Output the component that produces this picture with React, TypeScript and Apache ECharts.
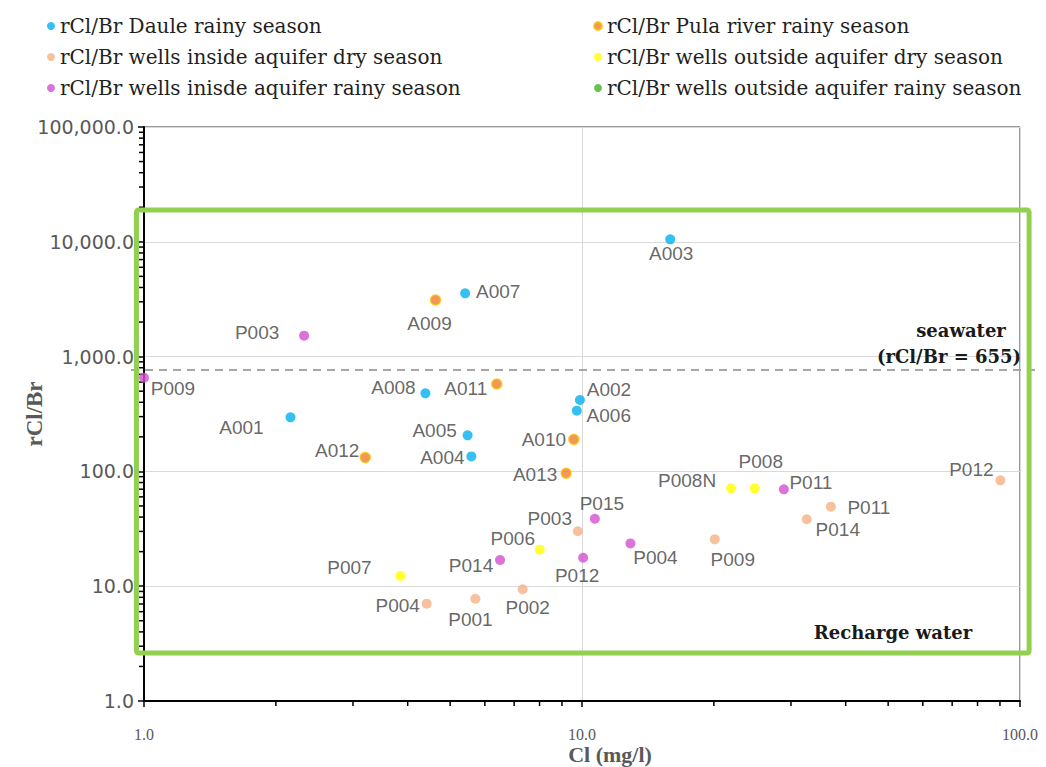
import React, { useEffect, useRef } from 'react';
import * as echarts from 'echarts';

// ---- Data (Cl in mg/l, rCl/Br ratio) ----
const seriesNames = [
  'rCl/Br Daule rainy season',
  'rCl/Br Pula river rainy season',
  'rCl/Br wells inside aquifer dry season',
  'rCl/Br wells outside aquifer dry season',
  'rCl/Br wells inisde aquifer rainy season',
  'rCl/Br wells outside aquifer rainy season',
];

const dauleIds = ['A003', 'A007', 'A008', 'A001', 'A005', 'A004', 'A002', 'A006'];
const dauleCl = [15.9, 5.41, 4.39, 2.16, 5.48, 5.59, 9.89, 9.73];
const dauleRatio = [10515, 3559, 479, 296, 206, 135, 419, 338];

const pulaIds = ['A009', 'A011', 'A010', 'A013', 'A012'];
const pulaCl = [4.63, 6.39, 9.58, 9.2, 3.2];
const pulaRatio = [3112, 577, 190, 96.3, 132];

const inDryIds = ['P003', 'P004', 'P001', 'P002', 'P009', 'P014', 'P011', 'P012'];
const inDryCl = [9.78, 4.42, 5.71, 7.32, 20.1, 32.6, 37.0, 90.2];
const inDryRatio = [30.1, 7.04, 7.78, 9.4, 25.6, 38.3, 49.3, 83.6];

const outDryIds = ['P007', 'P006', 'P008N', 'P008'];
const outDryCl = [3.85, 8.01, 21.9, 24.8];
const outDryRatio = [12.3, 20.8, 71.2, 71.2];

const inRainyIds = ['P003', 'P009', 'P014', 'P015', 'P012', 'P004', 'P011'];
const inRainyCl = [2.32, 1.0, 6.5, 10.7, 10.06, 12.9, 28.9];
const inRainyRatio = [1521, 655, 16.9, 38.7, 17.7, 23.6, 69.8];

const outRainyIds: string[] = [];
const outRainyCl: number[] = [];
const outRainyRatio: number[] = [];

const seawaterLevel = 765;
const xTickLabels = [1, 10, 100];
const xMinorTicks = [2, 3, 4, 5, 6, 7, 8, 9, 20, 30, 40, 50, 60, 70, 80, 90];
const yMinorTicks = [1, 10, 100, 1000, 10000].flatMap((d) => [2, 3, 4, 5, 6, 7, 8, 9].map((m) => m * d));

// ---- Layout: label offsets (text center relative to point), in px ----
const dauleLabelOff = [[1, 14], [33, -2], [-32, -6], [-49, 10], [-33, -5], [-29, 1], [29, -10], [32, 5]];
const pulaLabelOff = [[-6, 24], [-31, 4], [-30, 0], [-31, 1], [-28, -7]];
const inDryLabelOff = [[-28, -13], [-29, 2], [-5, 21], [5, 18], [18, 20], [31, 10], [38, 1], [-29, -11]];
const outDryLabelOff = [[-51, -8], [-27, -11], [-44, -8], [6, -27]];
const inRainyLabelOff = [[-47, -3], [29, 11], [-29, 5], [7, -15], [-6, 18], [25, 14], [27, -7]];
const outRainyLabelOff: number[][] = [];

const colors = ['#00B0F0', '#ED7D31', '#F4B183', '#FFFF00', '#D54FD0', '#3DB525'];

function buildData(ids: string[], xs: number[], ys: number[], offs: number[][]) {
  return ids.map((id, i) => ({
    name: id,
    value: [xs[i], ys[i]],
    label: { offset: offs[i] },
  }));
}

const fmt = (v: number) =>
  Number(v).toLocaleString('en-US', { minimumFractionDigits: 1, maximumFractionDigits: 1 });

export default function App() {
  const ref = useRef<HTMLDivElement>(null);
  useEffect(() => {
    const chart = echarts.init(ref.current!, null, { renderer: 'svg' });
    const groups = [
      buildData(dauleIds, dauleCl, dauleRatio, dauleLabelOff),
      buildData(pulaIds, pulaCl, pulaRatio, pulaLabelOff),
      buildData(inDryIds, inDryCl, inDryRatio, inDryLabelOff),
      buildData(outDryIds, outDryCl, outDryRatio, outDryLabelOff),
      buildData(inRainyIds, inRainyCl, inRainyRatio, inRainyLabelOff),
      buildData(outRainyIds, outRainyCl, outRainyRatio, outRainyLabelOff),
    ];
    const legendText = { fontFamily: 'DejaVu Serif', fontSize: 20, color: '#1f1f1f', lineHeight: 20 };
    const scatterSeries = groups.map((data, i) => ({
      type: 'scatter',
      name: seriesNames[i],
      data,
      symbol: 'circle',
      symbolSize: 10,
      z: 5,
      itemStyle:
        i === 1
          ? { color: colors[i], borderColor: '#FFC000', borderWidth: 1.5 }
          : { color: colors[i] },
      label: {
        show: true,
        position: 'inside',
        formatter: '{b}',
        fontFamily: 'Liberation Sans',
        fontSize: 19,
        color: '#404040',
      },
    }));
    const minorX = {
      type: 'custom',
      silent: true,
      clip: false,
      z: 3,
      data: xMinorTicks.map((v) => [v, 1]),
      renderItem: (_p: any, api: any) => {
        const p = api.coord([api.value(0), api.value(1)]);
        return { type: 'line', shape: { x1: p[0], y1: p[1], x2: p[0], y2: p[1] + 5 }, style: { stroke: '#000', lineWidth: 1.5 } };
      },
    };
    const minorY = {
      type: 'custom',
      silent: true,
      clip: false,
      z: 3,
      data: yMinorTicks.map((v) => [1, v]),
      renderItem: (_p: any, api: any) => {
        const p = api.coord([api.value(0), api.value(1)]);
        return { type: 'line', shape: { x1: p[0] - 5, y1: p[1], x2: p[0], y2: p[1] }, style: { stroke: '#000', lineWidth: 1.5 } };
      },
    };
    chart.setOption({
      animation: false,
      backgroundColor: '#fff',
      legend: [
        {
          orient: 'vertical', left: 42, top: 11, itemGap: 11, itemWidth: 8, itemHeight: 8, icon: 'circle',
          data: [seriesNames[0], seriesNames[2], seriesNames[4]], textStyle: legendText, selectedMode: false,
        },
        {
          orient: 'vertical', left: 588, top: 11, itemGap: 11, itemWidth: 8, itemHeight: 8, icon: 'circle',
          data: [seriesNames[1], seriesNames[3], seriesNames[5]], textStyle: legendText, selectedMode: false,
        },
      ],
      grid: {
        left: 144, right: 26, top: 127, bottom: 66, show: true, borderColor: '#333', borderWidth: 1,
        outerBoundsMode: 'none', containLabel: false,
      },
      xAxis: {
        type: 'log', logBase: 10, min: 1, max: 100,
        axisLine: { show: true, lineStyle: { color: '#000', width: 2 } },
        axisTick: { show: true, length: 6, lineStyle: { color: '#000', width: 1.5 } },
        axisLabel: { show: false },
        splitLine: { show: true, lineStyle: { color: '#D9D9D9', width: 1 } },
      },
      yAxis: {
        type: 'log', logBase: 10, min: 1, max: 100000,
        name: 'rCl/Br', nameLocation: 'middle', nameGap: 98, nameRotate: 90, nameMoveOverlap: false,
        nameTextStyle: { fontFamily: 'Liberation Serif', fontWeight: 'bold', fontSize: 23, color: '#595959' },
        axisLine: { show: true, lineStyle: { color: '#000', width: 2 } },
        axisTick: { show: true, length: 6, lineStyle: { color: '#000', width: 1.5 } },
        axisLabel: { formatter: fmt, margin: 10, fontFamily: 'DejaVu Sans', fontSize: 19, color: '#595959' },
        splitLine: { show: true, lineStyle: { color: '#D9D9D9', width: 1 } },
      },
      series: [...scatterSeries, minorX, minorY],
    });

    const toPx = (x: number, y: number) => chart.convertToPixel({ gridIndex: 0 }, [x, y]) as number[];
    const topLeft = toPx(0.961, 18900);
    const botRight = toPx(104.9, 2.62);
    const seaY = toPx(1, seawaterLevel)[1];
    const textFont = 'bold 18px "DejaVu Serif"';
    const xLabelTexts = xTickLabels.map((v) => {
      const p = toPx(v, 1);
      return {
        type: 'text', z: 6, silent: true, x: p[0], y: p[1] + 33,
        style: { text: fmt(v), font: '16px "Liberation Serif"', fill: '#595959', align: 'center', verticalAlign: 'middle' },
      };
    });
    const midX = (toPx(1, 1)[0] + toPx(100, 1)[0]) / 2;
    const axisBottom = toPx(1, 1)[1];
    chart.setOption({
      graphic: [
        {
          type: 'line', z: 2, silent: true,
          shape: { x1: 131, y1: seaY, x2: 1038, y2: seaY },
          style: { stroke: '#A6A6A6', lineWidth: 2, lineDash: [8, 6] },
        },
        {
          type: 'rect', z: 4, silent: true,
          shape: { x: topLeft[0], y: topLeft[1], width: botRight[0] - topLeft[0], height: botRight[1] - topLeft[1], r: 2 },
          style: { fill: 'none', stroke: '#92D050', lineWidth: 5 },
        },
        ...xLabelTexts,
        {
          type: 'text', z: 6, silent: true, x: midX + 28, y: axisBottom + 53,
          style: { text: 'Cl (mg/l)', font: 'bold 22px "Liberation Serif"', fill: '#595959', align: 'center', verticalAlign: 'middle' },
        },
        { type: 'text', z: 6, x: 961, y: 330, style: { text: 'seawater', font: textFont, fill: '#1a1a1a', align: 'center', verticalAlign: 'middle' } },
        { type: 'text', z: 6, x: 949, y: 356, style: { text: '(rCl/Br = 655)', font: textFont, fill: '#1a1a1a', align: 'center', verticalAlign: 'middle' } },
        { type: 'text', z: 6, x: 893, y: 632, style: { text: 'Recharge water', font: textFont, fill: '#1a1a1a', align: 'center', verticalAlign: 'middle' } },
      ],
    });
    return () => chart.dispose();
  }, []);
  return (
    <div
      ref={ref}
      style={{ position: 'fixed', left: 0, top: 0, width: 1046, height: 767, background: '#fff' }}
    />
  );
}
